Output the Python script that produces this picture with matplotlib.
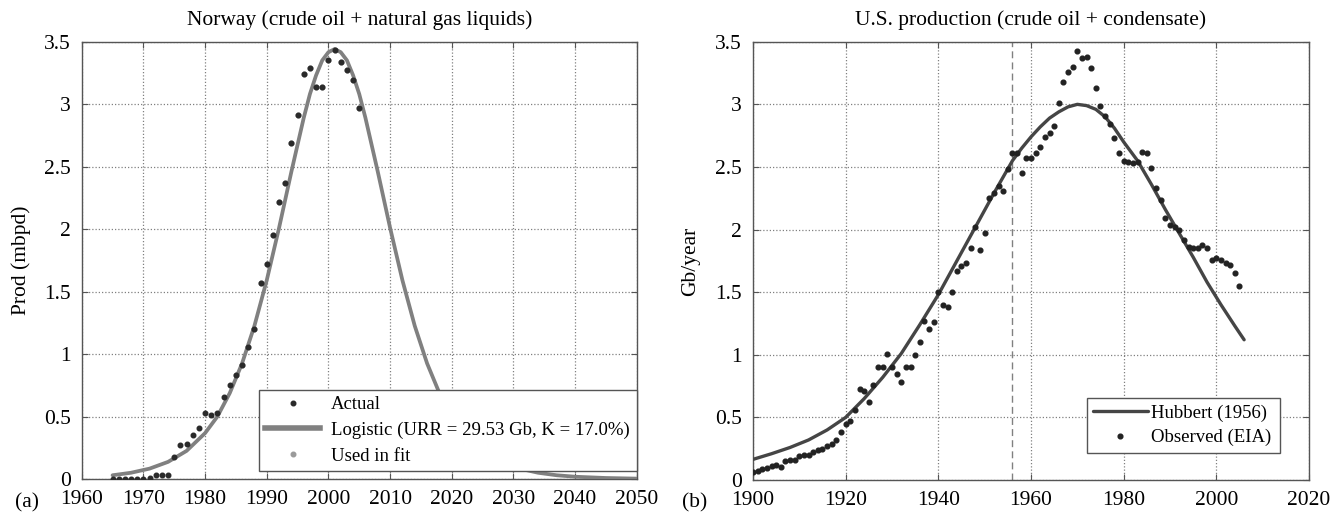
import matplotlib
matplotlib.use("Agg")
import matplotlib.pyplot as plt
from matplotlib.ticker import FormatStrFormatter

plt.rcParams["font.family"] = ["Liberation Serif", "DejaVu Serif"]

# (a) Norway, crude oil + NGL (mbpd)
norway_years = list(range(1965, 2006))
norway_actual = [0, 0, 0, 0, 0, 0, 0.005, 0.03, 0.03, 0.03,
                 0.18, 0.27, 0.28, 0.35, 0.41, 0.53, 0.51, 0.53, 0.66, 0.75,
                 0.83, 0.91, 1.06, 1.20, 1.57, 1.72, 1.95, 2.22, 2.37, 2.69,
                 2.91, 3.24, 3.29, 3.14, 3.14, 3.35, 3.43, 3.34, 3.27, 3.19,
                 2.97]
fit_years = list(range(1985, 2006))
fit_values = norway_actual[20:]

logistic_years = [1965, 1968, 1971, 1974, 1977, 1980, 1982, 1984, 1986, 1988,
                  1990, 1992, 1994, 1996, 1997, 1998, 1999, 2000, 2001, 2002,
                  2003, 2004, 2005, 2006, 2008, 2010, 2012, 2014, 2016, 2018,
                  2020, 2022, 2025, 2028, 2031, 2034, 2037, 2040, 2045, 2050]
logistic_values = [0.030, 0.050, 0.083, 0.137, 0.225, 0.367, 0.50, 0.687, 0.925, 1.225,
                   1.59, 2.01, 2.46, 2.89, 3.08, 3.23, 3.35, 3.415, 3.44, 3.415,
                   3.35, 3.23, 3.08, 2.89, 2.46, 2.01, 1.59, 1.225, 0.925, 0.687,
                   0.50, 0.367, 0.225, 0.137, 0.083, 0.050, 0.030, 0.018, 0.008, 0.003]

# (b) U.S. crude oil + condensate (Gb/year)
us_years = list(range(1900, 2006))
us_observed = [0.066, 0.075, 0.085, 0.095, 0.11, 0.12, 0.105, 0.15, 0.16, 0.16,
               0.19, 0.20, 0.20, 0.22, 0.24, 0.25, 0.27, 0.29, 0.32, 0.385,
               0.445, 0.47, 0.557, 0.73, 0.71, 0.62, 0.76, 0.90, 0.90, 1.01,
               0.90, 0.85, 0.78, 0.90, 0.90, 1.00, 1.10, 1.27, 1.21, 1.26,
               1.50, 1.40, 1.38, 1.50, 1.67, 1.71, 1.73, 1.85, 2.02, 1.84,
               1.97, 2.25, 2.29, 2.35, 2.31, 2.48, 2.61, 2.61, 2.45, 2.57,
               2.57, 2.61, 2.66, 2.74, 2.77, 2.83, 3.01, 3.18, 3.26, 3.30,
               3.43, 3.37, 3.38, 3.29, 3.13, 2.99, 2.91, 2.84, 2.73, 2.61,
               2.55, 2.54, 2.53, 2.54, 2.62, 2.61, 2.49, 2.33, 2.24, 2.09,
               2.04, 2.02, 2.00, 1.92, 1.86, 1.85, 1.85, 1.88, 1.85, 1.76,
               1.77, 1.76, 1.73, 1.72, 1.65, 1.55]

hubbert_years = [1900, 1904, 1908, 1912, 1916, 1920, 1924, 1928, 1932, 1936,
                 1940, 1944, 1948, 1952, 1956, 1958, 1960, 1962, 1964, 1966,
                 1968, 1970, 1972, 1974, 1976, 1978, 1980, 1983, 1986, 1989,
                 1992, 1995, 1998, 2001, 2004, 2006]
hubbert_values = [0.165, 0.21, 0.26, 0.32, 0.40, 0.50, 0.65, 0.82, 1.01, 1.24,
                  1.48, 1.75, 2.02, 2.29, 2.55, 2.65, 2.74, 2.82, 2.89, 2.94,
                  2.98, 3.00, 2.99, 2.96, 2.90, 2.81, 2.70, 2.55, 2.36, 2.16,
                  1.97, 1.78, 1.58, 1.40, 1.23, 1.12]
hubbert_year = 1956


def style_axes(ax):
    ax.grid(True, color="#808080", linestyle=(0, (1, 1.6)), linewidth=0.9)
    ax.tick_params(direction="in", top=True, right=True, length=4,
                   labelsize=15.5, pad=8, color="#555555")
    for s in ax.spines.values():
        s.set_color("#555555")
        s.set_linewidth(1.0)
    ax.yaxis.set_major_formatter(FormatStrFormatter("%g"))


fig = plt.figure(figsize=(13.42, 5.14), dpi=100)
ax1 = fig.add_axes([0.0609, 0.0681, 0.4136, 0.851])
ax2 = fig.add_axes([0.5611, 0.0661, 0.4143, 0.8527])

# left panel
ax1.plot(fit_years, fit_values, "o", color="#9a9a9a", markersize=3.3, zorder=2)
ax1.plot(logistic_years, logistic_values, color="#808080", linewidth=2.7, zorder=3,
         solid_capstyle="round", solid_joinstyle="round")
ax1.plot(norway_years, norway_actual, "o", color="#2a2a2a", markersize=3.3, zorder=4)
h_act = ax1.plot([], [], "o", color="#2a2a2a", markersize=3.3)[0]
h_log = ax1.plot([], [], color="#808080", linewidth=4)[0]
h_fit = ax1.plot([], [], "o", color="#9a9a9a", markersize=3.3)[0]
ax1.set_xlim(1960, 2050)
ax1.set_ylim(0, 3.5)
ax1.set_xticks(range(1960, 2051, 10))
ax1.set_yticks([0, 0.5, 1, 1.5, 2, 2.5, 3, 3.5])
style_axes(ax1)
ax1.set_title("Norway (crude oil + natural gas liquids)", fontsize=15.5, pad=12)
ax1.set_ylabel("Prod (mbpd)", fontsize=15.5, labelpad=9)
leg1 = ax1.legend([h_act, h_log, h_fit],
                  ["Actual", "Logistic (URR = 29.53 Gb, K = 17.0%)", "Used in fit"],
                  loc="lower left", bbox_to_anchor=(0.319, 0.018, 0.681, 0.179),
                  mode="expand", fontsize=13.5, handlelength=2.9, handletextpad=0.6,
                  labelspacing=0.45, borderpad=0.35, fancybox=False, framealpha=1,
                  edgecolor="#555555", borderaxespad=0)
leg1.get_frame().set_linewidth(1.0)

# right panel
ax2.axvline(hubbert_year, color="#808080", linestyle=(0, (5, 3)), linewidth=1.0, zorder=1)
ax2.plot(hubbert_years, hubbert_values, color="#454545", linewidth=2.4, zorder=3,
         solid_capstyle="round", solid_joinstyle="round", label="Hubbert (1956)")
ax2.plot(us_years, us_observed, "o", color="#222222", markersize=3.4, zorder=4,
         linestyle="none", label="Observed (EIA)")
ax2.set_xlim(1900, 2020)
ax2.set_ylim(0, 3.5)
ax2.set_xticks(range(1900, 2021, 20))
ax2.set_yticks([0, 0.5, 1, 1.5, 2, 2.5, 3, 3.5])
style_axes(ax2)
ax2.set_title("U.S. production (crude oil + condensate)", fontsize=15.5, pad=12)
ax2.set_ylabel("Gb/year", fontsize=15.5, labelpad=11)
leg2 = ax2.legend(loc="lower left", bbox_to_anchor=(0.60, 0.0616, 0.348, 0.125),
                  mode="expand", fontsize=13.5, handlelength=2.9, handletextpad=0.2,
                  labelspacing=0.4, borderpad=0.35, fancybox=False, framealpha=1,
                  edgecolor="#555555", borderaxespad=0)
leg2.get_frame().set_linewidth(1.0)

fig.text(0.011, 0.021, "(a)", fontsize=15.5, ha="left", va="center")
fig.text(0.508, 0.021, "(b)", fontsize=15.5, ha="left", va="center")

fig.savefig("out.png", dpi=100)
